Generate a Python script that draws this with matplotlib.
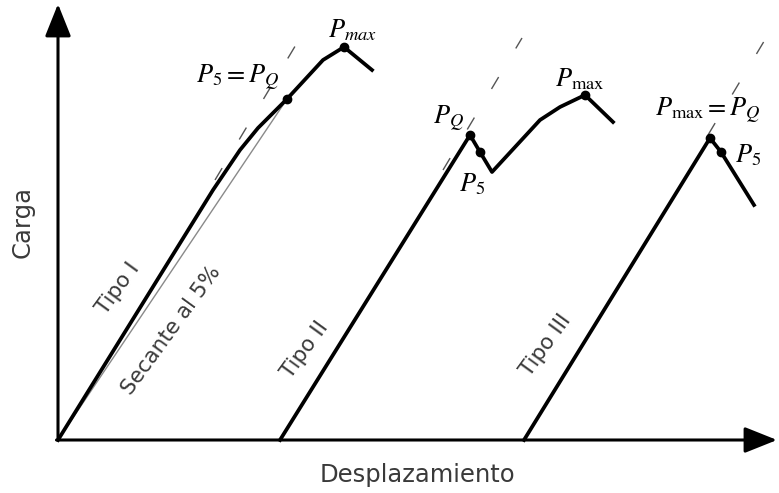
import matplotlib
matplotlib.use("Agg")
import matplotlib.pyplot as plt

plt.rcParams['mathtext.fontset'] = 'stix'

# curve vertices (displacement, load) for the three fracture types
tipo1_x = [0, 155, 182, 200, 229, 265, 286, 314]
tipo1_y = [0, 250, 290, 312, 341, 380, 393, 370]
tipo2_x = [222, 412, 422, 434, 482, 502, 527, 555]
tipo2_y = [0, 305, 288, 268, 320, 333, 345, 318]
tipo3_x = [466, 652, 663, 696]
tipo3_y = [0, 302, 288, 235]

# indices of the marked points on each curve
puntos1 = [4, 6]        # P5 = PQ, Pmax
puntos2 = [1, 2, 6]     # PQ, P5, Pmax
puntos3 = [1, 2]        # Pmax = PQ, P5

# initial-slope lines, only the part that shows above the curves
tangente_x = [(157, 242), (385, 464), (650, 708)]
tangente_y = [(260, 402), (270, 402), (305, 402)]
secante_x = [0, 229]
secante_y = [0, 341]

fig = plt.figure(figsize=(7.79, 4.93), dpi=100)
ax = fig.add_axes([0, 0, 1, 1])
ax.set_xlim(-58, 721)
ax.set_ylim(-53, 440)
ax.axis('off')

txt = '#3a3a3a'

# axes with arrow heads
ax.annotate('', xy=(0, 436), xytext=(0, 0),
            arrowprops=dict(arrowstyle='-|>,head_length=1.0,head_width=0.4',
                            mutation_scale=20, lw=2.2, color='black',
                            shrinkA=0, shrinkB=0))
ax.annotate('', xy=(719, 0), xytext=(-1.5, 0),
            arrowprops=dict(arrowstyle='-|>,head_length=1.0,head_width=0.4',
                            mutation_scale=20, lw=2.2, color='black',
                            shrinkA=0, shrinkB=0))

# dashed tangent lines
for tx, ty in zip(tangente_x, tangente_y):
    ax.plot(tx, ty, color='#555555', lw=1.0, dashes=(10, 24), zorder=1)

# secant
ax.plot(secante_x, secante_y, color='#8a8a8a', lw=1.0, zorder=1)

for xs, ys, pts in [(tipo1_x, tipo1_y, puntos1),
                    (tipo2_x, tipo2_y, puntos2),
                    (tipo3_x, tipo3_y, puntos3)]:
    ax.plot(xs, ys, color='black', lw=2.7, solid_joinstyle='round', zorder=2)
    ax.plot([xs[i] for i in pts], [ys[i] for i in pts], 'o', color='black',
            ms=6, zorder=3)

# point labels
pk = dict(fontsize=19, color='black', ha='center', va='center')
ax.text(294, 410, r'$P_{max}$', **pk)
ax.text(180, 362, r'$P_5 = P_Q$', **pk)
ax.text(391, 321, r'$P_Q$', **pk)
ax.text(414, 256, r'$P_5$', **pk)
ax.text(522, 361, r'$P_{\mathrm{max}}$', **pk)
ax.text(650, 329, r'$P_{\mathrm{max}} = P_Q$', **pk)
ax.text(690, 285, r'$P_5$', **pk)

# curve labels
lk = dict(fontsize=15.5, color=txt, ha='center', va='center', rotation=54)
ax.text(60, 152, 'Tipo I', **lk)
ax.text(113, 110, 'Secante al 5%', **lk)
ax.text(247, 90, 'Tipo II', **lk)
ax.text(488, 95, 'Tipo III', **lk)

ax.text(-35, 218, 'Carga', fontsize=17.5, color=txt, ha='center',
        va='center', rotation=90)
ax.text(359, -35, 'Desplazamiento', fontsize=17.5, color=txt, ha='center',
        va='center')

fig.savefig('out.png', dpi=100)
